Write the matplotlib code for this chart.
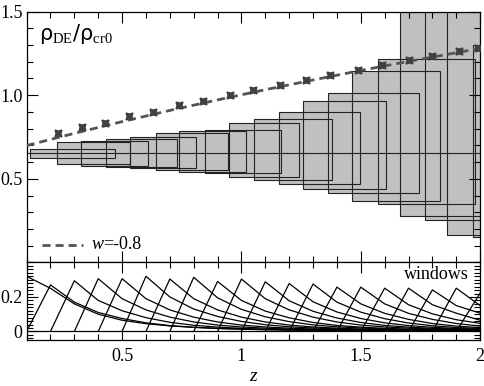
import numpy as np
import matplotlib
matplotlib.use("Agg")
import matplotlib.pyplot as plt
from matplotlib.patches import Rectangle
from matplotlib.ticker import MultipleLocator, FixedLocator, FuncFormatter

plt.rcParams['font.family'] = ['Liberation Serif', 'DejaVu Serif']
plt.rcParams['mathtext.fontset'] = 'custom'
plt.rcParams['mathtext.rm'] = 'Liberation Serif'
plt.rcParams['mathtext.it'] = 'Liberation Serif:style=italic'

# reconstructed rho_DE boxes: left z, right z, bottom, top
box_z0 = [0.114, 0.226, 0.327, 0.432, 0.532, 0.640, 0.738, 0.846, 0.948, 1.052,
          1.156, 1.257, 1.362, 1.462, 1.571, 1.666, 1.771, 1.863, 1.971]
box_z1 = [0.469, 0.532, 0.609, 0.728, 0.811, 0.944, 1.018, 1.167, 1.241, 1.380,
          1.497, 1.606, 1.743, 1.833, 1.979, 2.10, 2.10, 2.10, 2.10]
box_lo = [0.627, 0.588, 0.579, 0.573, 0.564, 0.553, 0.543, 0.534, 0.510, 0.494,
          0.470, 0.438, 0.418, 0.370, 0.350, 0.279, 0.255, 0.165, 0.155]
box_hi = [0.677, 0.723, 0.727, 0.737, 0.753, 0.775, 0.787, 0.793, 0.833, 0.858,
          0.902, 0.966, 1.012, 1.145, 1.215, 1.60, 1.60, 1.60, 1.30]
rho_fid = 0.655

# stars
star_z = [0.23, 0.33, 0.43, 0.53, 0.63, 0.74, 0.84, 0.95, 1.05, 1.16,
          1.27, 1.37, 1.49, 1.59, 1.70, 1.80, 1.91, 1.99]
star_rho = [0.775, 0.811, 0.836, 0.875, 0.899, 0.940, 0.966, 1.002, 1.032, 1.060,
            1.092, 1.120, 1.152, 1.181, 1.211, 1.233, 1.263, 1.281]

# w = -0.8 curve
w08_z = [0.1, 0.3, 0.5, 0.7, 0.9, 1.1, 1.3, 1.5, 1.7, 1.9, 2.0]
w08_rho = [0.699, 0.772, 0.842, 0.909, 0.972, 1.033, 1.091, 1.148, 1.202, 1.254, 1.280]

# window functions, node grid and values (each window starts at start index)
z_nodes = [0.1, 0.2, 0.3, 0.4, 0.5, 0.6, 0.7, 0.8, 0.9, 1.0,
           1.1, 1.2, 1.3, 1.4, 1.5, 1.6, 1.7, 1.8, 1.9, 2.0]
windows = [
    [0.32, 0.25, 0.16, 0.10, 0.065, 0.045, 0.032, 0.024, 0.018, 0.014, 0.011, 0.009, 0.007, 0.006, 0.005, 0.004, 0.004, 0.003, 0.003, 0.002],
    [0, 0.27, 0.17, 0.11, 0.075, 0.05, 0.034, 0.024, 0.017, 0.013, 0.01, 0.008, 0.006, 0.005, 0.004, 0.004, 0.003, 0.003, 0.002, 0.002],
    [0, 0.294, 0.18, 0.12, 0.08, 0.053, 0.036, 0.025, 0.018, 0.013, 0.01, 0.008, 0.006, 0.005, 0.004, 0.003, 0.003, 0.002, 0.002],
    [0, 0.306, 0.19, 0.125, 0.083, 0.055, 0.037, 0.026, 0.019, 0.014, 0.011, 0.008, 0.006, 0.005, 0.004, 0.003, 0.003, 0.002],
    [0, 0.306, 0.19, 0.125, 0.083, 0.055, 0.037, 0.026, 0.019, 0.014, 0.011, 0.008, 0.006, 0.005, 0.004, 0.003, 0.003],
    [0, 0.32, 0.2, 0.13, 0.087, 0.058, 0.039, 0.027, 0.02, 0.015, 0.011, 0.008, 0.006, 0.005, 0.004, 0.003],
    [0, 0.304, 0.19, 0.125, 0.083, 0.055, 0.037, 0.026, 0.019, 0.014, 0.011, 0.008, 0.006, 0.005, 0.004],
    [0, 0.314, 0.195, 0.128, 0.085, 0.057, 0.038, 0.027, 0.02, 0.015, 0.011, 0.008, 0.006, 0.005],
    [0, 0.29, 0.18, 0.118, 0.079, 0.052, 0.035, 0.025, 0.018, 0.013, 0.01, 0.008, 0.006],
    [0, 0.304, 0.19, 0.125, 0.083, 0.055, 0.037, 0.026, 0.019, 0.014, 0.011, 0.008],
    [0, 0.288, 0.178, 0.117, 0.078, 0.052, 0.035, 0.025, 0.018, 0.013, 0.01],
    [0, 0.278, 0.172, 0.113, 0.075, 0.05, 0.034, 0.024, 0.017, 0.013],
    [0, 0.275, 0.17, 0.112, 0.074, 0.049, 0.033, 0.023, 0.017],
    [0, 0.257, 0.16, 0.105, 0.07, 0.046, 0.031, 0.022],
    [0, 0.257, 0.16, 0.105, 0.07, 0.046, 0.031],
    [0, 0.251, 0.155, 0.102, 0.068, 0.047],
    [0, 0.251, 0.155, 0.106, 0.065],
    [0, 0.241, 0.15, 0.106],
    [0, 0.251, 0.15],
    [0, 0.222],
]
win_start = [0, 0, 1, 2, 3, 4, 5, 6, 7, 8, 9, 10, 11, 12, 13, 14, 15, 16, 17, 18]


def style_axes(ax):
    ax.tick_params(which='both', direction='in', top=True, right=True, width=0.8,
                   labelsize=13, pad=3)
    ax.tick_params(which='major', length=8)
    ax.tick_params(which='minor', length=4)
    for sp in ax.spines.values():
        sp.set_linewidth(0.9)


fig = plt.figure(figsize=(4.84, 3.86), dpi=100)
ax1 = fig.add_axes([0.055, 0.320, 0.937, 0.650])
ax2 = fig.add_axes([0.055, 0.119, 0.937, 0.201])

# top panel
for z0, z1, lo, hi in zip(box_z0, box_z1, box_lo, box_hi):
    ax1.add_patch(Rectangle((z0, lo), z1 - z0, hi - lo, facecolor='#c0c0c0',
                            edgecolor='none', zorder=1))
for z0, z1, lo, hi in zip(box_z0, box_z1, box_lo, box_hi):
    ax1.add_patch(Rectangle((z0, lo), z1 - z0, hi - lo, facecolor='none',
                            edgecolor='#222222', lw=0.8, zorder=2))
ax1.axhline(rho_fid, color='#222222', lw=0.8, zorder=2)
ax1.plot(w08_z, w08_rho, color='#555555', lw=2, dashes=(2.9, 1.8), zorder=3)
ax1.plot(star_z, star_rho, ls='none', marker=(4, 1, 45), ms=7, color='#404040',
         zorder=4)
ax1.set_xlim(0.1, 2.0)
ax1.set_ylim(0, 1.5)
ax1.xaxis.set_major_locator(MultipleLocator(0.5))
ax1.xaxis.set_minor_locator(MultipleLocator(0.1))
ax1.yaxis.set_major_locator(FixedLocator([0.5, 1.0, 1.5]))
ax1.yaxis.set_minor_locator(MultipleLocator(0.1))
ax1.yaxis.set_major_formatter(FuncFormatter(lambda v, p: '%.1f' % v))
ax1.set_xticklabels([])
style_axes(ax1)
ax1.text(0.15, 1.33, 'ρ$_{\\mathrm{DE}}$/ρ$_{\\mathrm{cr0}}$', fontsize=15,
         family=['DejaVu Sans'])

# legend drawn by hand
ax1.plot([0.165, 0.335], [0.105, 0.105], color='#555555', lw=2, dashes=(2.9, 1.8))
ax1.text(0.37, 0.105, 'w', fontsize=13, style='italic', va='center')
ax1.text(0.42, 0.105, '=-0.8', fontsize=13, va='center')

# bottom panel
for w, s in zip(windows, win_start):
    ax2.plot(z_nodes[s:s + len(w)], w, color='black', lw=0.9)
ax2.axhline(0, color='black', lw=0.9)
ax2.set_xlim(0.1, 2.0)
ax2.set_ylim(-0.05, 0.4)
ax2.xaxis.set_major_locator(MultipleLocator(0.5))
ax2.xaxis.set_minor_locator(MultipleLocator(0.1))
ax2.yaxis.set_major_locator(FixedLocator([0, 0.2]))
ax2.yaxis.set_minor_locator(MultipleLocator(0.02))
ax2.xaxis.set_major_formatter(FuncFormatter(lambda v, p: '%g' % v))
ax2.yaxis.set_major_formatter(FuncFormatter(lambda v, p: '%g' % v))
style_axes(ax2)
ax2.tick_params(axis='x', pad=6)
ax2.text(0.975, 0.96, 'windows', transform=ax2.transAxes, ha='right', va='top',
         fontsize=13)
ax2.set_xlabel('z', fontsize=14, style='italic', labelpad=2)

fig.savefig('out.png', dpi=100)
